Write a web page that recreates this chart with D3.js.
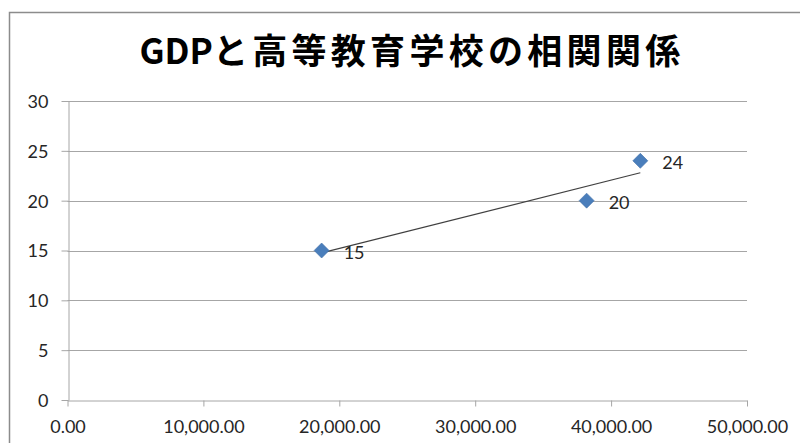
<!DOCTYPE html>
<html>
<head>
<meta charset="utf-8">
<script src="https://cdn.jsdelivr.net/npm/d3@7"></script>
<style>
  html, body { margin: 0; padding: 0; background: #fff; }
  svg { display: block; }
</style>
</head>
<body>
<svg id="chart" width="800" height="443"></svg>
<script>
// GDP (x) against number of higher-education schools (y)
const gdp = [18700, 38200, 42150];
const schools = [15, 20, 24];
const xTicks = [0, 10000, 20000, 30000, 40000, 50000];
const yTicks = [0, 5, 10, 15, 20, 25, 30];
const titleLatin = "GDP";
const titleJa = "と高等教育学校の相関関係";

const svg = d3.select("#chart");
const W = 800, H = 443;
const plotL = 67.5, plotR = 747, plotT = 101, plotB = 400;
const labelFont = "Lato, 'Open Sans', sans-serif";

// chart frame
svg.append("rect")
  .attr("x", 9.5).attr("y", 12.5)
  .attr("width", W + 20).attr("height", H + 20)
  .attr("fill", "#fff").attr("stroke", "#8c8c8c").attr("stroke-width", 1.5);

const titleEl = svg.append("text")
  .attr("x", 412).attr("y", 64)
  .attr("text-anchor", "middle")
  .attr("font-family", "'Noto Sans CJK JP', sans-serif")
  .attr("font-weight", "bold")
  .attr("font-size", 35)
  .attr("fill", "#000");
titleEl.append("tspan").attr("letter-spacing", 0).text(titleLatin);
titleEl.append("tspan").attr("letter-spacing", 4.3).text(titleJa);

const x = d3.scaleLinear().domain([0, 50000]).range([plotL, plotR]);
const y = d3.scaleLinear().domain([0, 30]).range([plotB, plotT]);

// horizontal gridlines
svg.append("g")
  .selectAll("line")
  .data(yTicks.filter(d => d > 0))
  .join("line")
  .attr("x1", plotL).attr("x2", plotR)
  .attr("y1", d => Math.round(y(d)) + 0.5).attr("y2", d => Math.round(y(d)) + 0.5)
  .attr("stroke", "#a6a6a6").attr("stroke-width", 1);

const fmt = d3.format(",.2f");

const xAxis = svg.append("g")
  .attr("transform", `translate(0,${Math.round(plotB) + 0.5})`)
  .call(d3.axisBottom(x).tickValues(xTicks).tickFormat(fmt).tickSizeInner(6).tickSizeOuter(0).tickPadding(14));

const yAxis = svg.append("g")
  .attr("transform", `translate(${Math.round(plotL) + 0.5},0)`)
  .call(d3.axisLeft(y).tickValues(yTicks).tickSizeInner(7).tickSizeOuter(0).tickPadding(13));

[xAxis, yAxis].forEach(g => {
  g.select(".domain").attr("stroke", "#a6a6a6");
  g.selectAll(".tick line").attr("stroke", "#a6a6a6");
  g.selectAll(".tick text")
    .attr("font-family", labelFont)
    .attr("font-size", 18)
    .attr("fill", "#262626");
});
yAxis.selectAll(".tick text").attr("dy", "0.36em");

// linear trendline (least squares)
const mx = d3.mean(gdp), my = d3.mean(schools);
const sxy = d3.sum(gdp, (v, i) => (v - mx) * (schools[i] - my));
const sxx = d3.sum(gdp, v => (v - mx) * (v - mx));
const slope = sxy / sxx, icpt = my - slope * mx;
const x0 = d3.min(gdp), x1 = d3.max(gdp);
svg.append("line")
  .attr("x1", x(x0)).attr("y1", y(icpt + slope * x0))
  .attr("x2", x(x1)).attr("y2", y(icpt + slope * x1))
  .attr("stroke", "#404040").attr("stroke-width", 1.2);

// diamond markers
const pts = gdp.map((g, i) => ({ g, s: schools[i] }));
svg.append("g")
  .selectAll("path")
  .data(pts)
  .join("path")
  .attr("transform", d => `translate(${x(d.g)},${y(d.s)})`)
  .attr("d", "M0,-7.5L7.5,0L0,7.5L-7.5,0Z")
  .attr("fill", "#4a7ebb")
  .attr("stroke", "#3f6fa8").attr("stroke-width", 0.6);

// value labels
svg.append("g")
  .selectAll("text")
  .data(pts)
  .join("text")
  .attr("x", d => x(d.g) + 22)
  .attr("y", d => y(d.s) + 2)
  .attr("dy", "0.36em")
  .attr("font-family", labelFont)
  .attr("font-size", 18)
  .attr("fill", "#262626")
  .text(d => d.s);
</script>
</body>
</html>
